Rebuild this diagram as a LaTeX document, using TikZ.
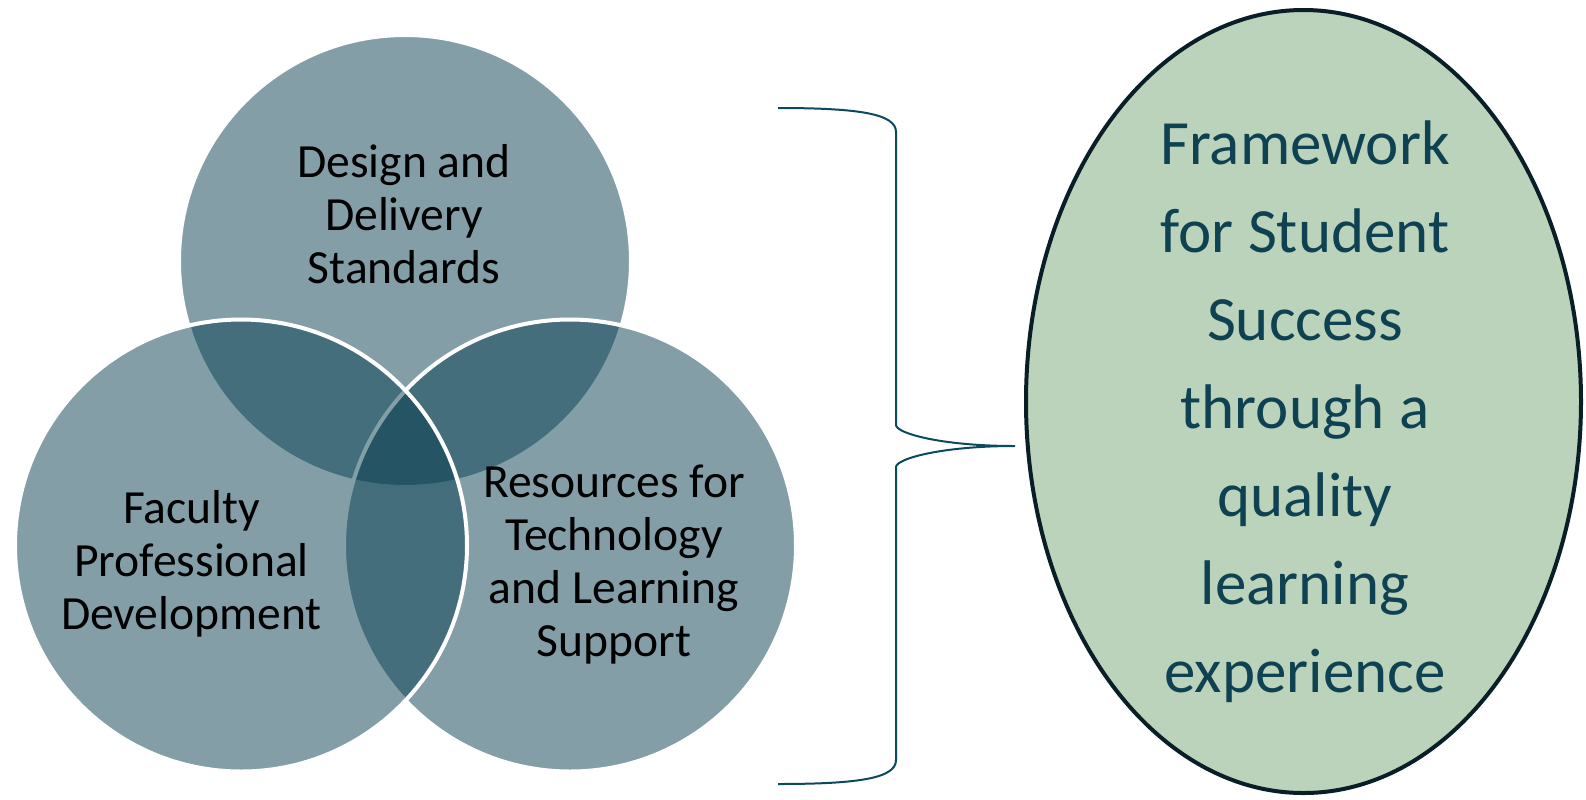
\documentclass[tikz,border=0pt]{standalone}
\usepackage{fontspec}
\setmainfont{Carlito}
\usetikzlibrary{shapes.geometric}
\definecolor{venn}{RGB}{7,62,80}
\definecolor{ovalfill}{RGB}{187,210,187}
\definecolor{ovaledge}{RGB}{10,30,40}
\definecolor{ovaltext}{RGB}{14,66,82}
\definecolor{bracecol}{RGB}{11,74,92}
\begin{document}
\begin{tikzpicture}[x=0.5pt,y=-0.5pt,
  vennc/.style={circle, minimum size=226pt, inner sep=0pt, fill=venn, fill opacity=0.5, draw=white, draw opacity=1, line width=2pt},
  vlabel/.style={align=center, font=\fontsize{23.8}{26.5}\selectfont, text=black, inner sep=0pt},
  oval/.style={ellipse, minimum width=277.5pt, minimum height=391.5pt, inner sep=0pt, fill=ovalfill, draw=ovaledge, line width=2pt},
  ovallabel/.style={align=center, font=\fontsize{31.5}{44}\selectfont, text=ovaltext, inner sep=0pt},
  bracestyle/.style={draw=bracecol, line width=1pt}]
\useasboundingbox (0,0) rectangle (1586,799);
% Venn circles
\node[vennc] (ctop) at (405,261) {};
\node[vennc] (cright) at (570,545.5) {};
\node[vennc] (cleft) at (241,545.5) {};
% labels
\node[vlabel] (ltop) at (404,214.5) {Design and\\Delivery\\Standards};
\node[vlabel] (lleft) at (191.5,564) {Faculty\\Professional\\Development};
\node[vlabel] (lright) at (614,564.5) {Resources for\\Technology\\and Learning\\Support};
% oval
\node[oval] (goal) at (1303.5,401.5) {};
\node[ovallabel] (goaltext) at (1305,412) {Framework\\for Student\\Success\\through a\\quality\\learning\\experience};
% brace
\coordinate (bracetop) at (778,108);
\coordinate (bracetip) at (1015,446);
\coordinate (bracebot) at (778,784);
\draw[bracestyle] (bracetop) .. controls (860,108) and (896,114) .. (896,132)
  -- (896,425) .. controls (896,433) and (940,446) .. (bracetip)
  .. controls (940,446) and (896,459) .. (896,467)
  -- (896,760) .. controls (896,778) and (860,784) .. (bracebot);
\end{tikzpicture}
\end{document}
